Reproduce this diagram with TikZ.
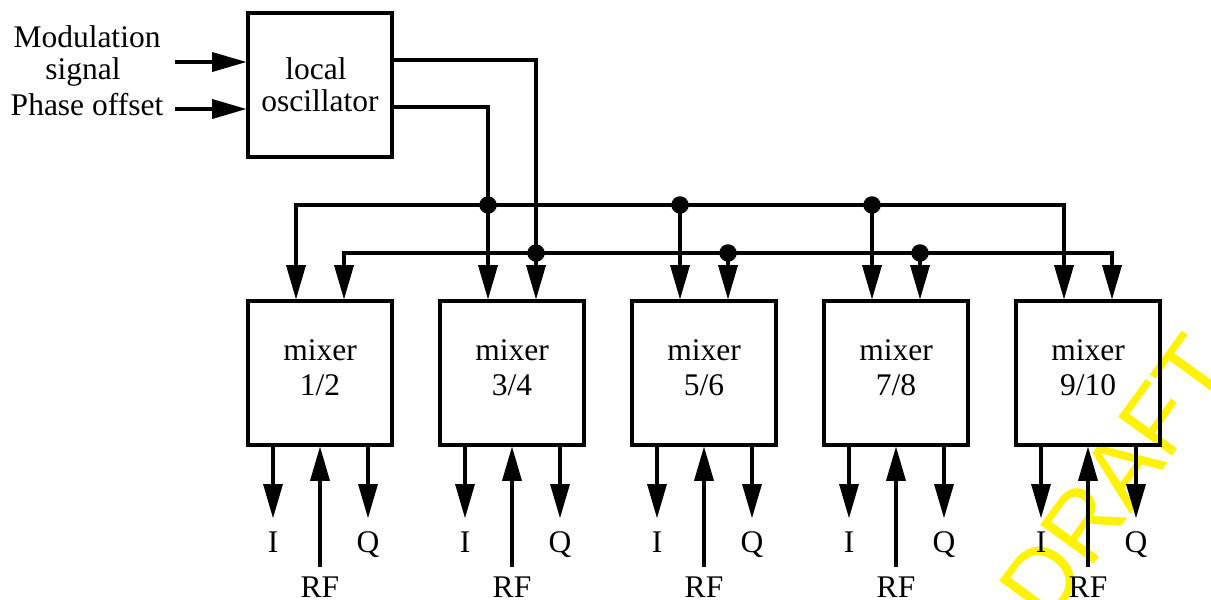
\documentclass[tikz,border=0pt]{standalone}
\usepackage{fontspec}
\setmainfont{Liberation Serif}
\newfontfamily\wmfont{Liberation Sans}
\usetikzlibrary{arrows.meta,calc}

\begin{document}
\begin{tikzpicture}[x=1pt,y=-1pt,
  wire/.style={line width=3.6pt, line join=miter},
  tipend/.tip={Triangle[length=34pt,width=20pt,line width=0pt]},
  sig/.style={wire, -tipend},
  sigboth/.style={wire, tipend-tipend},
  block/.style={draw, line width=3.6pt, minimum width=144pt, minimum height=144pt, inner sep=0pt},
  lbl/.style={font=\fontsize{31.5}{33}\selectfont, inner sep=0pt, anchor=base},
  joint/.style={circle, fill, inner sep=0pt, minimum size=17.5pt},
  watermark/.style={text=yellow, inner sep=0pt, font=\wmfont\fontsize{96}{96}\selectfont}
]
\useasboundingbox (0,0) rectangle (1211,600);
\clip (0,0) rectangle (1211,600);

% watermark behind everything
\node[watermark, rotate=54] (wm) at (1116,478) {DRAFT};

% local oscillator and its inputs
\node[block] (lo) at (320,85) {};
\node[lbl] (tLocal) at (316,79) {local};
\node[lbl] (tOsc) at (320,111) {oscillator};

\node[lbl] (tMod) at (87,47) {Modulation};
\node[lbl] (tSig) at (83,79) {signal};
\node[lbl] (tPh) at (87,115) {Phase offset};

\coordinate (inMod) at (175,62);
\coordinate (inPh) at (175,109);
\draw[sig] (inMod) -- (inMod -| lo.west);
\draw[sig] (inPh) -- (inPh -| lo.west);

% mixers
\foreach \k/\cx/\txt in {1/320/1\slash 2, 2/512/3\slash 4, 3/704/5\slash 6, 4/896/7\slash 8, 5/1088/9\slash 10}{
  \node[block] (m\k) at (\cx,373) {};
  \node[lbl] (tm\k) at (\cx,360) {mixer};
  \node[lbl] (tn\k) at (\cx,395) {\txt};
  % I, RF and Q ports
  \coordinate (i\k) at (\cx-47,518);
  \coordinate (q\k) at (\cx+48,518);
  \coordinate (rf\k) at (\cx,567);
  \draw[sig] (i\k |- m\k.south) -- (i\k);
  \draw[sig] (q\k |- m\k.south) -- (q\k);
  \draw[sig] (rf\k) -- (rf\k |- m\k.south);
  \node[lbl] (ti\k) at (\cx-47,552) {I};
  \node[lbl] (tq\k) at (\cx+48,552) {Q};
  \node[lbl] (trf\k) at (\cx,597) {RF};
}

% distribution buses
\foreach \k/\cx in {1/296, 2/488, 3/680, 4/872, 5/1064}{
  \coordinate (jA\k) at (\cx,205);
  \coordinate (jB\k) at (\cx+48,253);
}

% oscillator outputs
\draw[sig] ($(lo.north east)+(0,49)$) -| (jB2 |- m2.north);
\draw[sig] ($(lo.north east)+(0,96)$) -| (jA2 |- m2.north);

% bus A
\draw[sigboth] (jA1 |- m1.north) -- (jA1) -- (jA5) -- (jA5 |- m5.north);
\draw[sig] (jA3) -- (jA3 |- m3.north);
\draw[sig] (jA4) -- (jA4 |- m4.north);
% bus B
\draw[sigboth] (jB1 |- m1.north) -- (jB1) -- (jB5) -- (jB5 |- m5.north);
\draw[sig] (jB3) -- (jB3 |- m3.north);
\draw[sig] (jB4) -- (jB4 |- m4.north);

% junction dots
\foreach \k in {2,3,4}{
  \node[joint] (dA\k) at (jA\k) {};
  \node[joint] (dB\k) at (jB\k) {};
}
\end{tikzpicture}
\end{document}
